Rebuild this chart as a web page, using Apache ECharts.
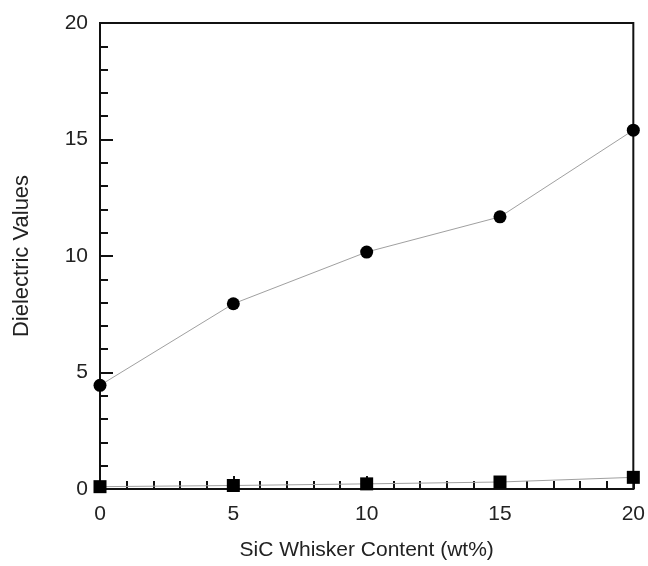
<!DOCTYPE html>
<html>
<head>
<meta charset="utf-8">
<script src="https://cdn.jsdelivr.net/npm/echarts@6/dist/echarts.min.js"></script>
<style>
  html, body { margin: 0; padding: 0; background: #fff; }
  #main { width: 648px; height: 566px; }
</style>
</head>
<body>
<div id="main"></div>
<script>
// SiC whisker content (wt%)
const sicContent = [0, 5, 10, 15, 20];
// dielectric values
const circleValues = [4.45, 7.95, 10.17, 11.68, 15.4];
const squareValues = [0.1, 0.15, 0.22, 0.3, 0.5];

const chart = echarts.init(document.getElementById('main'), null, { renderer: 'canvas' });

const axisFont = { fontFamily: 'Liberation Sans, Arial, sans-serif', color: '#222' };

function pairs(xs, ys) {
  return xs.map((x, i) => [x, ys[i]]);
}

const option = {
  animation: false,
  backgroundColor: '#fff',
  grid: {
    left: 100,
    right: 12,
    top: 23,
    bottom: 77,
    show: true,
    borderColor: '#111',
    borderWidth: 2
  },
  xAxis: {
    type: 'value',
    min: 0,
    max: 20,
    interval: 5,
    name: 'SiC Whisker Content (wt%)',
    nameLocation: 'middle',
    nameGap: 51,
    nameTextStyle: Object.assign({ fontSize: 21 }, axisFont),
    axisLine: { lineStyle: { color: '#111', width: 2 } },
    axisTick: { inside: true, length: 13, lineStyle: { color: '#111', width: 2 } },
    minorTick: { show: true, splitNumber: 5, length: 8, lineStyle: { color: '#111', width: 2 } },
    axisLabel: Object.assign({ fontSize: 21, margin: 15 }, axisFont),
    splitLine: { show: false }
  },
  yAxis: {
    type: 'value',
    min: 0,
    max: 20,
    interval: 5,
    name: 'Dielectric Values',
    nameLocation: 'middle',
    nameGap: 67,
    nameTextStyle: Object.assign({ fontSize: 22 }, axisFont),
    axisLine: { lineStyle: { color: '#111', width: 2 } },
    axisTick: { inside: true, length: 13, lineStyle: { color: '#111', width: 2 } },
    minorTick: { show: true, splitNumber: 5, length: 8, lineStyle: { color: '#111', width: 2 } },
    axisLabel: Object.assign({ fontSize: 21, margin: 12 }, axisFont),
    splitLine: { show: false }
  },
  series: [
    {
      type: 'line',
      data: pairs(sicContent, circleValues),
      symbol: 'circle',
      symbolSize: 13,
      clip: false,
      lineStyle: { color: '#a0a0a0', width: 1 },
      itemStyle: { color: '#000' }
    },
    {
      type: 'line',
      data: pairs(sicContent, squareValues),
      symbol: 'rect',
      symbolSize: 13,
      clip: false,
      lineStyle: { color: '#a0a0a0', width: 1 },
      itemStyle: { color: '#000' }
    }
  ]
};

chart.setOption(option);
</script>
</body>
</html>
